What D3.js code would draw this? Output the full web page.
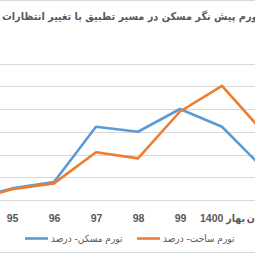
<!DOCTYPE html>
<html>
<head>
<meta charset="utf-8">
<script src="https://cdn.jsdelivr.net/npm/d3@7"></script>
<style>
  body { margin: 0; background: #fff; }
  svg { display: block; font-family: "Liberation Sans", "DejaVu Sans Condensed", "DejaVu Sans", sans-serif; }
</style>
</head>
<body>
<div id="chart"></div>
<script>
// categories (left to right as drawn), first and last are cut by the frame
let categories = ['94', '95', '96', '97', '98', '99', 'بهار 1400', 'تابستان'];
let housing = [0.2, 5.1, 7.9, 32.2, 30.0, 40.0, 32.2, 13.6];
let construction = [-0.3, 4.7, 7.3, 21.0, 18.3, 38.9, 50.2, 29.5];
let yTicks = [0, 10, 20, 30, 40, 50, 60];
let seriesNames = ['تورم مسکن- درصد', 'تورم ساخت- درصد'];
let title = 'تورم پیش نگر مسکن در مسیر تطبیق با تغییر انتظارات';

let width = 255;
let height = 255;
let colors = ['#5B9BD5', '#ED7D31'];

let svg = d3.select('#chart')
    .append('svg')
    .attr('width', width)
    .attr('height', height);

// chart frame (only top and bottom edges are inside the picture)
svg.append('line')
    .attr('x1', 0).attr('x2', width)
    .attr('y1', 0.5).attr('y2', 0.5)
    .attr('stroke', '#d9d9d9');
svg.append('line')
    .attr('x1', 0).attr('x2', width)
    .attr('y1', 252.5).attr('y2', 252.5)
    .attr('stroke', '#d9d9d9');

svg.append('text')
    .attr('x', 2)
    .attr('y', 20)
    .attr('font-size', 10.8)
    .attr('font-weight', 'bold')
    .attr('fill', '#595959')
    .style('font-family', '"DejaVu Sans Condensed", "DejaVu Sans", sans-serif')
    .text(title);

let x = d3.scalePoint()
    .domain(categories)
    .range([-30, 264]);

let y = d3.scaleLinear()
    .domain([0, 60])
    .range([200, 63.5]);

// gridlines
svg.append('g')
    .selectAll('line')
    .data(yTicks)
    .enter()
    .append('line')
        .attr('x1', 0)
        .attr('x2', width)
        .attr('y1', d => Math.round(y(d)) + 0.5)
        .attr('y2', d => Math.round(y(d)) + 0.5)
        .attr('stroke', '#d9d9d9')
        .attr('stroke-width', 1.2);

// x axis labels
let xAxis = svg.append('g')
    .attr('transform', `translate(0, ${200})`)
    .call(d3.axisBottom(x).tickSize(0).tickPadding(15));
xAxis.select('.domain').remove();
xAxis.selectAll('text')
    .attr('font-size', 10.5)
    .attr('font-weight', 'bold')
    .attr('fill', '#595959')
    .attr('direction', 'rtl')
    .style('font-family', '"Liberation Sans", "DejaVu Sans Condensed", sans-serif');

let line = d3.line()
    .x((d, i) => x(categories[i]))
    .y(d => y(d));

[housing, construction].forEach((values, i) => {
    svg.append('path')
        .datum(values)
        .attr('fill', 'none')
        .attr('stroke', colors[i])
        .attr('stroke-width', 2.6)
        .attr('stroke-linejoin', 'round')
        .attr('stroke-linecap', 'round')
        .attr('d', line);
});

// legend
let legendX = [25, 137];
seriesNames.forEach((name, i) => {
    let g = svg.append('g')
        .attr('transform', `translate(${legendX[i]}, ${238.5})`);
    g.append('line')
        .attr('x1', 0).attr('x2', 23)
        .attr('stroke', colors[i])
        .attr('stroke-width', 2.6);
    g.append('text')
        .attr('x', 26)
        .attr('y', 3.5)
        .attr('font-size', 10)
        .attr('fill', '#595959')
        .attr('direction', 'rtl')
        .attr('text-anchor', 'end')
        .style('font-family', '"DejaVu Sans Condensed", "DejaVu Sans", sans-serif')
        .text(name);
});
</script>
</body>
</html>
